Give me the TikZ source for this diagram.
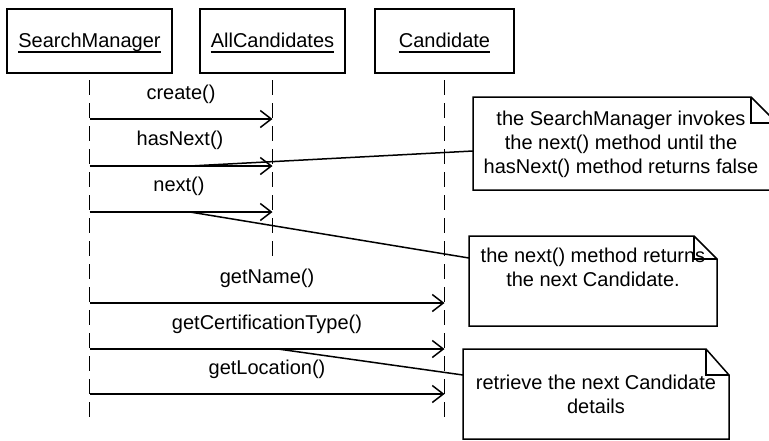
\documentclass[tikz,border=0pt]{standalone}
\usepackage{fontspec}
\setmainfont{Liberation Sans}
\usetikzlibrary{arrows.meta,calc}
\newcommand\notebody[3]{% name, fold x, fold y
  \draw[noteline] (#1.north west) -- ([xshift=-#2]#1.north east) -- ([yshift=-#3]#1.north east) -- (#1.south east) -- (#1.south west) -- cycle;
  \draw[noteline] ([xshift=-#2]#1.north east) |- ([yshift=-#3]#1.north east);
}
\begin{document}
\begin{tikzpicture}[x=1pt,y=-1pt,
  txt/.style={font=\fontsize{20}{24}\selectfont, inner sep=0pt, anchor=base},
  obj/.style={draw, line width=1.5pt, minimum width=#1, minimum height=64pt, inner sep=0pt, outer sep=0pt},
  ul/.style={line width=1.4pt},
  lifeline/.style={line width=1.5pt, dash pattern=on 15pt off 8pt, dash phase=16pt},
  msg/.style={line width=1.5pt, -{Straight Barb[length=11pt,width=17pt,line width=1.5pt]}},
  notebox/.style={draw=none, inner sep=0pt, outer sep=0pt},
  noteline/.style={line width=1.5pt},
  link/.style={line width=1.5pt}]
\useasboundingbox (0,0) rectangle (769,440);
\clip (0,0) rectangle (769,440);
% objects
\node[obj=165pt] (sm) at (89.5,41) {};
\node[obj=145pt] (ac) at (272.5,41) {};
\node[obj=139pt] (ca) at (444.5,41) {};
\node[txt] (smt) at (89.5,47) {SearchManager};
\node[txt] (act) at (272.5,47) {AllCandidates};
\node[txt] (cat) at (444.5,47) {Candidate};
\draw[ul] ([yshift=-5pt]smt.base west) -- ([yshift=-5pt]smt.base east);
\draw[ul] ([yshift=-5pt]act.base west) -- ([yshift=-5pt]act.base east);
\draw[ul] ([yshift=-5pt]cat.base west) -- ([yshift=-5pt]cat.base east);
% lifelines
\coordinate (smend) at (89.5,419);
\coordinate (acend) at (272.5,258);
\coordinate (caend) at (444.5,419);
\draw[lifeline] (sm.south) -- (smend);
\draw[lifeline] (ac.south) -- (acend);
\draw[lifeline] (ca.south) -- (caend);
% messages
\draw[msg] (sm.south |- 0,119) -- (ac.south |- 0,119);
\draw[msg] (sm.south |- 0,166) -- (ac.south |- 0,166);
\draw[msg] (sm.south |- 0,212) -- (ac.south |- 0,212);
\draw[msg] (sm.south |- 0,303) -- (ca.south |- 0,303);
\draw[msg] (sm.south |- 0,349) -- (ca.south |- 0,349);
\draw[msg] (sm.south |- 0,394) -- (ca.south |- 0,394);
\node[txt] (m1) at (181,99) {create()};
\node[txt] (m2) at (180,145.5) {hasNext()};
\node[txt] (m3) at (179,191.5) {next()};
\node[txt] (m4) at (267,283) {getName()};
\node[txt] (m5) at (267,329) {getCertificationType()};
\node[txt] (m6) at (267,374) {getLocation()};
% notes
\node[notebox, minimum width=304pt, minimum height=93pt] (n1) at (625,143.5) {};
\node[notebox, minimum width=248pt, minimum height=90pt] (n2) at (593,281) {};
\node[notebox, minimum width=266pt, minimum height=90pt] (n3) at (596,394) {};
\notebody{n1}{26pt}{26pt}
\notebody{n2}{23pt}{23pt}
\notebody{n3}{23pt}{26pt}
\node[txt] (n1a) at (621,125) {the SearchManager invokes};
\node[txt] (n1b) at (621,149) {the next() method until the};
\node[txt] (n1c) at (621,173) {hasNext() method returns false};
\node[txt] (n2a) at (593,262) {the next() method returns};
\node[txt] (n2b) at (593,286) {the next Candidate.};
\node[txt] (n3a) at (596,389) {retrieve the next Candidate};
\node[txt] (n3b) at (596,413) {details};
% note links
\coordinate (k1) at (190,166);
\coordinate (k2) at (190,212);
\coordinate (k3) at (278,349);
\draw[link] (k1) -- (n1.west |- 0,151);
\draw[link] (k2) -- (n2.west |- 0,258);
\draw[link] (k3) -- (n3.west |- 0,375);
\end{tikzpicture}
\end{document}
